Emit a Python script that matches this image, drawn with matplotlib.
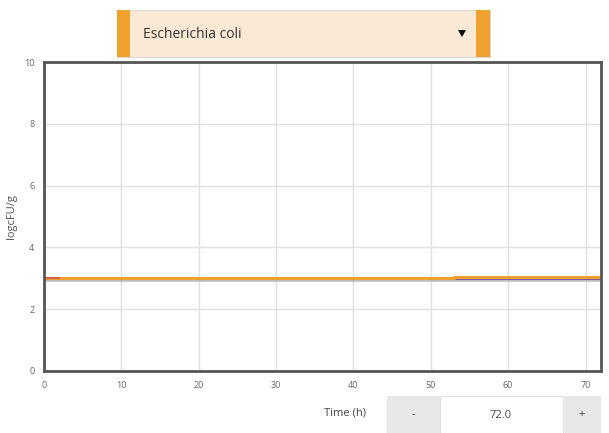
import matplotlib
matplotlib.use("Agg")
import matplotlib.pyplot as plt
from matplotlib.patches import Rectangle, Polygon

# Data
time_orange = [0, 43, 53, 70, 72]
val_orange = [3.00, 3.02, 3.03, 3.05, 3.05]
time_red = [0, 2]
val_red = [3.01, 3.01]
time_gray = [0, 72]
val_gray = [2.95, 2.95]
time_purple = [0, 43, 62, 72]
val_purple = [2.97, 2.98, 2.98, 2.99]

x_ticks = [0, 10, 20, 30, 40, 50, 60, 70]
y_ticks = [0, 2, 4, 6, 8, 10]
species = "Escherichia coli"
time_value = "72.0"

W, H = 609, 433
fig = plt.figure(figsize=(W/100, H/100), dpi=100)
fig.patch.set_facecolor("white")
plt.rcParams['font.family'] = ['Open Sans', 'DejaVu Sans']

def fx(px): return px / W
def fy(py): return 1 - py / H

ax = fig.add_axes([fx(44), fy(371), fx(601) - fx(44), fy(62) - fy(371)])
ax.set_xlim(0, 72)
ax.set_ylim(0, 10)
ax.set_xticks(x_ticks)
ax.set_yticks(y_ticks)
ax.tick_params(length=0, labelsize=6.5, colors="#666666", pad=7)
ax.grid(True, color="#e0e0e0", linewidth=1)
for s in ax.spines.values():
    s.set_color("#555555")
    s.set_linewidth(2)

ax.step(time_gray, val_gray, where="post", color="#b8b8b8", linewidth=2, alpha=0.8)
ax.step(time_purple, val_purple, where="post", color="#7b5aa6", linewidth=1.6)
ax.step(time_orange, val_orange, where="post", color="#f0a030", linewidth=2.2)
ax.step(time_red, val_red, where="post", color="#d0604a", linewidth=1.5)

ax.set_ylabel("logcFU/g", fontsize=8, color="#555555")
ax.yaxis.set_label_coords((17 - 44) / (601 - 44), 0.5)

# Dropdown box
fig.add_artist(Rectangle((fx(117), fy(57)), fx(490) - fx(117), fy(10) - fy(57),
                         transform=fig.transFigure, facecolor="#fbe9d6",
                         edgecolor="#d8d8d8", linewidth=0.8))
fig.add_artist(Rectangle((fx(117), fy(57)), fx(130) - fx(117), fy(10) - fy(57),
                         transform=fig.transFigure, facecolor="#f0a22e", edgecolor="none"))
fig.add_artist(Rectangle((fx(476), fy(57)), fx(490) - fx(476), fy(10) - fy(57),
                         transform=fig.transFigure, facecolor="#f0a22e", edgecolor="none"))
fig.text(fx(143), fy(34), species, fontsize=10, color="#333333", va="center", ha="left")
fig.add_artist(Polygon([(fx(458), fy(30)), (fx(466), fy(30)), (fx(462), fy(37))],
                       closed=True, transform=fig.transFigure, facecolor="black"))

# Time control
fig.text(fx(345), fy(413), "Time (h)", fontsize=8, color="#444444", va="center", ha="center")
fig.add_artist(Rectangle((fx(387), fy(433)), fx(440) - fx(387), fy(396) - fy(433),
                         transform=fig.transFigure, facecolor="#e8e8e8", edgecolor="none"))
fig.add_artist(Rectangle((fx(440), fy(433)), fx(563) - fx(440), fy(396) - fy(433),
                         transform=fig.transFigure, facecolor="white", edgecolor="#dddddd", linewidth=0.8))
fig.add_artist(Rectangle((fx(563), fy(433)), fx(601) - fx(563), fy(396) - fy(433),
                         transform=fig.transFigure, facecolor="#e8e8e8", edgecolor="none"))
fig.text(fx(413), fy(415), "-", fontsize=8, color="#444444", va="center", ha="center")
fig.text(fx(501), fy(415), time_value, fontsize=8, color="#444444", va="center", ha="center")
fig.text(fx(582), fy(415), "+", fontsize=8, color="#444444", va="center", ha="center")

fig.savefig("out.png", dpi=100)
